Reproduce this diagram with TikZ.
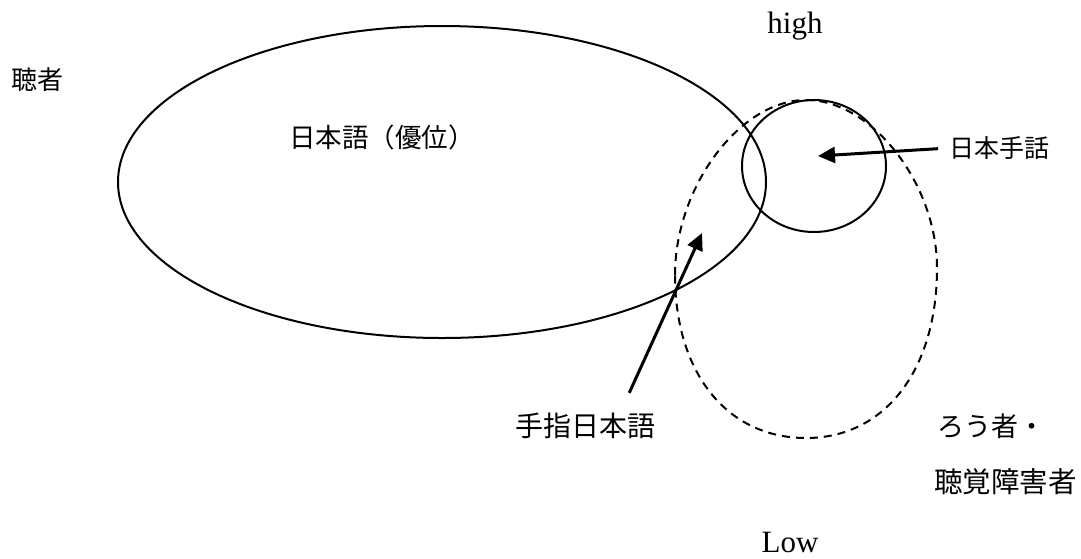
\documentclass[tikz,border=0pt]{standalone}
\usepackage{fontspec}
\setmainfont{Liberation Serif}
\newfontfamily\jpfont{Noto Sans CJK JP}
\usetikzlibrary{arrows.meta}

\begin{document}
\begin{tikzpicture}[x=1pt,y=-1pt,
    jp/.style={font=\jpfont\fontsize{#1}{#1}\selectfont, inner sep=0pt},
    jp/.default=25,
    lat/.style={font=\fontsize{31}{36}\selectfont, inner sep=0pt},
    pointer/.style={line width=3pt, -{Triangle[length=17pt,width=16pt]}}]
    \useasboundingbox (0,0) rectangle (1081,558);

    % Draw the ellipses
    \draw[line width=2pt] (442,182) ellipse (324 and 156);
    \draw[line width=2pt] (814,166) ellipse (72 and 66);
    \draw[line width=2pt, dash pattern=on 8pt off 6pt]
        (675,275) .. controls (675,187) and (740,100) .. (806,100)
        .. controls (872,100) and (937,184) .. (937,268)
        .. controls (937,370) and (885,438) .. (806,438)
        .. controls (727,438) and (675,373) .. (675,275) -- cycle;

    % Labels
    \node[lat, anchor=base] (high) at (795,33) {high};
    \node[lat, anchor=base] (low) at (790,552) {Low};
    \node[jp=26] (hearing) at (37,80) {聴者};
    \node[jp=26.5] (japanese) at (382,137) {日本語（優位）};
    \node[jp, anchor=west] (jsl) at (949,148) {日本手話};
    \node[jp=28, anchor=west] (signed) at (515,426) {手指日本語};
    \node[jp=27, anchor=west] (deaf) at (937,426) {ろう者・};
    \node[jp=28.5, anchor=west] (deaf2) at (934,482) {聴覚障害者};

    % Arrows
    \coordinate (jsltip) at (818,156);
    \coordinate (signedtip) at (702,233);
    \draw[pointer, shorten <=11pt] (jsl.west) -- (jsltip);
    \draw[pointer] ([xshift=44pt,yshift=20pt]signed.north) -- (signedtip);
\end{tikzpicture}
\end{document}
